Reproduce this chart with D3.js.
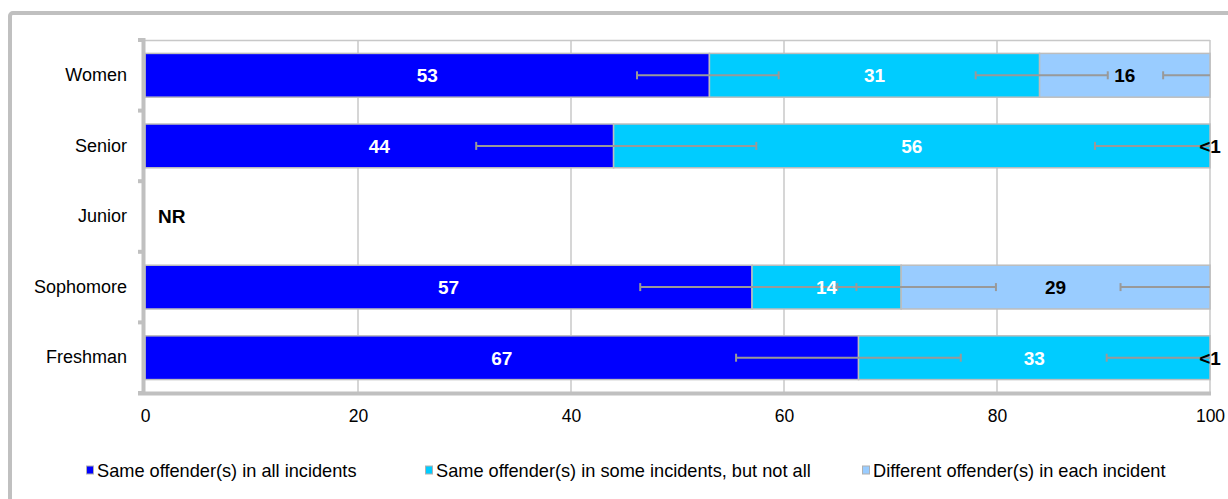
<!DOCTYPE html>
<html>
<head>
<meta charset="utf-8">
<script src="https://cdn.jsdelivr.net/npm/d3@7"></script>
<style>
  html, body { margin: 0; padding: 0; background: #fff; }
  svg { display: block; font-family: "Liberation Sans", Arial, sans-serif; }
</style>
</head>
<body>
<svg id="chart" width="1228" height="499"></svg>
<script>
// Respondent groups, top to bottom
const categories = ["Women", "Senior", "Junior", "Sophomore", "Freshman"];

// Percent of victims by offender pattern (Junior: not reported)
const sameAll    = [53, 44, null, 57, 67];
const someNotAll = [31, 56, null, 14, 33];
const different  = [16, 0, null, 29, 0];
const differentLabels = ["16", "<1", null, "29", "<1"];
const notReportedLabel = "NR";

// Confidence intervals, as [low, high] on the cumulative percent axis
const sameAllCI    = [[46.2, 59.5], [31.1, 57.4], null, [46.5, 66.8], [55.5, 76.6]];
const someNotAllCI = [[78.0, 90.4], [89.2, 110.8], null, [65.0, 79.9], [90.3, 109.7]];
const differentCI  = [[95.6, 104.4], null, null, [91.6, 108.4], null];

const seriesNames = [
  "Same offender(s) in all incidents",
  "Same offender(s) in some incidents, but not all",
  "Different offender(s) in each incident"
];
const xTicks = [0, 20, 40, 60, 80, 100];

const colors = ["#0000ff", "#00ccff", "#99ccff"];
const labelColors = ["#ffffff", "#ffffff", "#000000"];

const svg = d3.select("#chart");
const plot = { left: 145, right: 1210, top: 40, bottom: 393 };

const x = d3.scaleLinear().domain([0, 100]).range([plot.left, plot.right]);
const y = d3.scaleBand().domain(categories)
  .range([plot.top, plot.bottom]).paddingInner(0.38).paddingOuter(0.19);

// Outer frame
svg.append("rect")
  .attr("x", 10).attr("y", 13).attr("width", 1240).attr("height", 500)
  .attr("rx", 3).attr("fill", "none")
  .attr("stroke", "#c0c0c0").attr("stroke-width", 4);

// Vertical gridlines and plot border
svg.append("g").selectAll("line").data(xTicks.filter(t => t > 0 && t < 100)).join("line")
  .attr("x1", d => x(d)).attr("x2", d => x(d))
  .attr("y1", plot.top).attr("y2", plot.bottom)
  .attr("stroke", "#c8c8c8").attr("stroke-width", 1.5);
svg.append("line")
  .attr("x1", plot.left).attr("x2", plot.right)
  .attr("y1", plot.top + 0.5).attr("y2", plot.top + 0.5)
  .attr("stroke", "#c8c8c8").attr("stroke-width", 1.5);
svg.append("line")
  .attr("x1", plot.right).attr("x2", plot.right)
  .attr("y1", plot.top).attr("y2", plot.bottom)
  .attr("stroke", "#c8c8c8").attr("stroke-width", 1.5);

// Stack the three series per category
const rows = categories.map((c, i) => ({
  cat: c,
  vals: [sameAll[i], someNotAll[i], different[i]],
  cis: [sameAllCI[i], someNotAllCI[i], differentCI[i]],
  labels: [sameAll[i], someNotAll[i], differentLabels[i]]
}));

const segs = [];
rows.forEach(r => {
  if (r.vals[0] == null) return;
  let acc = 0;
  r.vals.forEach((v, k) => {
    segs.push({ cat: r.cat, k, x0: acc, x1: acc + v, ci: r.cis[k], label: r.labels[k] });
    acc += v;
  });
});

// Bars
svg.append("g").selectAll("rect").data(segs.filter(s => s.x1 > s.x0)).join("rect")
  .attr("x", d => x(d.x0)).attr("width", d => x(d.x1) - x(d.x0))
  .attr("y", d => y(d.cat)).attr("height", y.bandwidth())
  .attr("fill", d => colors[d.k])
  .attr("stroke", "#bdbdbd").attr("stroke-width", 1.5);

// Error bars, clipped to the plot area
svg.append("clipPath").attr("id", "plotClip").append("rect")
  .attr("x", plot.left).attr("y", plot.top)
  .attr("width", plot.right - plot.left).attr("height", plot.bottom - plot.top);
const eb = svg.append("g").attr("clip-path", "url(#plotClip)")
  .selectAll("g").data(segs.filter(s => s.ci)).join("g")
  .attr("stroke", "#999999").attr("stroke-width", 2);
eb.append("line")
  .attr("x1", d => x(d.ci[0])).attr("x2", d => x(d.ci[1]))
  .attr("y1", d => y(d.cat) + y.bandwidth() / 2).attr("y2", d => y(d.cat) + y.bandwidth() / 2);
eb.append("line")
  .attr("x1", d => x(d.ci[0])).attr("x2", d => x(d.ci[0]))
  .attr("y1", d => y(d.cat) + y.bandwidth() / 2 - 4).attr("y2", d => y(d.cat) + y.bandwidth() / 2 + 4);
eb.append("line")
  .attr("x1", d => x(d.ci[1])).attr("x2", d => x(d.ci[1]))
  .attr("y1", d => y(d.cat) + y.bandwidth() / 2 - 4).attr("y2", d => y(d.cat) + y.bandwidth() / 2 + 4);

// Value labels
svg.append("g").selectAll("text").data(segs).join("text")
  .attr("x", d => x((d.x0 + d.x1) / 2))
  .attr("y", d => y(d.cat) + y.bandwidth() / 2)
  .attr("dy", "0.36em")
  .attr("text-anchor", "middle")
  .attr("font-weight", "bold").attr("font-size", 19)
  .attr("fill", d => labelColors[d.k])
  .text(d => d.label);

rows.filter(r => r.vals[0] == null).forEach(r => {
  svg.append("text")
    .attr("x", plot.left + 13)
    .attr("y", y(r.cat) + y.bandwidth() / 2)
    .attr("dy", "0.36em")
    .attr("font-weight", "bold").attr("font-size", 19)
    .attr("fill", "#000")
    .text(notReportedLabel);
});

// Category axis
const yAxis = svg.append("g").attr("transform", `translate(${plot.left - 1},0)`)
  .call(d3.axisLeft(y).tickSize(0).tickPadding(17));
yAxis.select(".domain").remove();
yAxis.selectAll("text").attr("font-size", 18).attr("fill", "#000")
  .attr("font-family", "Liberation Sans, Arial, sans-serif");

const step = y.step();
const bounds = d3.range(categories.length + 1).map(i => plot.top + i * step);
svg.append("g").selectAll("line").data(bounds).join("line")
  .attr("x1", plot.left - 7).attr("x2", plot.left - 2)
  .attr("y1", d => d).attr("y2", d => d)
  .attr("stroke", "#c0c0c0").attr("stroke-width", 4);
svg.append("line")
  .attr("x1", plot.left - 1.5).attr("x2", plot.left - 1.5)
  .attr("y1", plot.top - 2).attr("y2", plot.bottom + 2)
  .attr("stroke", "#c0c0c0").attr("stroke-width", 4);
svg.append("line")
  .attr("x1", plot.left - 7).attr("x2", plot.right + 1)
  .attr("y1", plot.bottom + 0.5).attr("y2", plot.bottom + 0.5)
  .attr("stroke", "#c0c0c0").attr("stroke-width", 4);

// Percent axis
const xAxis = svg.append("g").attr("transform", `translate(0,${plot.bottom})`)
  .call(d3.axisBottom(x).tickValues(xTicks).tickSize(0).tickPadding(17));
xAxis.select(".domain").remove();
xAxis.selectAll("text").attr("font-size", 17.5).attr("fill", "#000")
  .attr("font-family", "Liberation Sans, Arial, sans-serif");

// Legend
const legendX = [86, 425, 862];
const legend = svg.append("g").selectAll("g").data(seriesNames).join("g")
  .attr("transform", (d, i) => `translate(${legendX[i]},470)`);
legend.append("rect")
  .attr("x", 0.5).attr("y", -4).attr("width", 7).attr("height", 8)
  .attr("fill", (d, i) => colors[i]).attr("stroke", "#b0b0b0").attr("stroke-width", 1);
legend.append("text")
  .attr("x", 11).attr("y", 0).attr("dy", "0.36em")
  .attr("font-size", 18.2).attr("fill", "#000")
  .text(d => d);
</script>
</body>
</html>
